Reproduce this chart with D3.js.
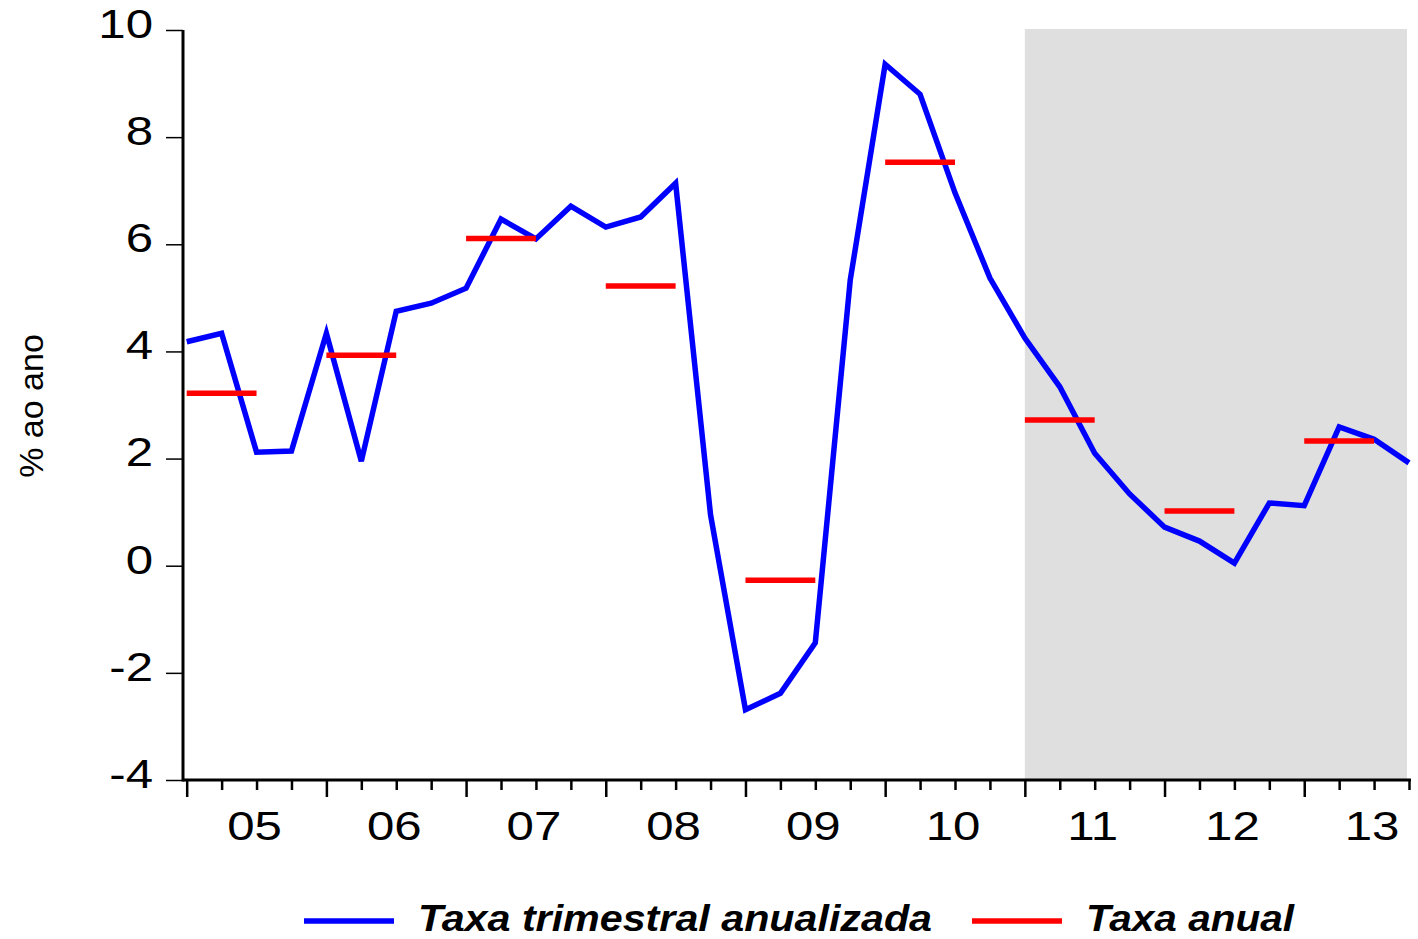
<!DOCTYPE html>
<html>
<head>
<meta charset="utf-8">
<script src="https://cdn.jsdelivr.net/npm/d3@7"></script>
<style>
  body { margin: 0; background: #fff; }
  text { font-family: "Liberation Sans", Arial, sans-serif; }
</style>
</head>
<body>
<div id="chart"></div>
<script>
// quarters 2005Q1 .. 2013Q4
var quarters = [
  "2005Q1","2005Q2","2005Q3","2005Q4",
  "2006Q1","2006Q2","2006Q3","2006Q4",
  "2007Q1","2007Q2","2007Q3","2007Q4",
  "2008Q1","2008Q2","2008Q3","2008Q4",
  "2009Q1","2009Q2","2009Q3","2009Q4",
  "2010Q1","2010Q2","2010Q3","2010Q4",
  "2011Q1","2011Q2","2011Q3","2011Q4",
  "2012Q1","2012Q2","2012Q3","2012Q4",
  "2013Q1","2013Q2","2013Q3","2013Q4"
];

// Taxa trimestral anualizada
var quarterly = [
  4.18, 4.34, 2.12, 2.14,
  4.34, 1.95, 4.75, 4.90,
  5.18, 6.47, 6.10, 6.71,
  6.32, 6.51, 7.14, 0.95,
  -2.69, -2.38, -1.44, 5.33,
  9.36, 8.80, 6.96, 5.37,
  4.25, 3.34, 2.10, 1.34,
  0.72, 0.46, 0.05, 1.17,
  1.12, 2.59, 2.36, 1.92
];

// Taxa anual
var years = ["2005","2006","2007","2008","2009","2010","2011","2012","2013"];
var yearLabels = ["05","06","07","08","09","10","11","12","13"];
var annual = [3.22, 3.93, 6.11, 5.22, -0.27, 7.53, 2.72, 1.02, 2.33];

var yTicks = [-4, -2, 0, 2, 4, 6, 8, 10];
var shadeStart = "2011Q1";

var svgWidth = 1418;
var svgHeight = 939;
var stretch = 1.2;   // tick labels are drawn a bit wide

var svg = d3.select("#chart")
  .append("svg")
  .attr("width", svgWidth)
  .attr("height", svgHeight);

var x = d3.scalePoint()
  .domain(quarters)
  .range([186.7, 1409]);

var y = d3.scaleLinear()
  .domain([-4, 10])
  .range([780, 30]);

// shaded forecast area
svg.append("rect")
  .attr("x", x(shadeStart))
  .attr("y", y(10) - 1)
  .attr("width", x(quarters[quarters.length - 1]) - x(shadeStart) - 2)
  .attr("height", y(-4) - y(10) + 1)
  .attr("fill", "#dfdfdf");

// left axis
var leftAxis = d3.axisLeft(y)
  .tickValues(yTicks)
  .tickSize(17)
  .tickPadding(8)
  .tickFormat(d => String(d));

var gy = svg.append("g")
  .attr("transform", "translate(183,0)")
  .call(leftAxis);
gy.select(".domain").remove();
gy.selectAll(".tick line").attr("stroke", "#000").attr("stroke-width", 1.5);
gy.selectAll(".tick text")
  .attr("font-size", 41)
  .attr("fill", "#000")
  .attr("dy", "0.3em")
  .attr("font-family", "'Liberation Sans', Arial, sans-serif")
  .attr("transform", `translate(0,-5) scale(${stretch},1)`);

// bottom axis quarter ticks
var bottomAxis = d3.axisBottom(x)
  .tickSize(9)
  .tickFormat("");

var gx = svg.append("g")
  .attr("transform", "translate(0,781)")
  .call(bottomAxis);
gx.select(".domain").remove();
gx.selectAll(".tick line")
  .attr("stroke", "#000")
  .attr("stroke-width", 2.5)
  .attr("y2", d => d.slice(4) === "Q1" ? 16 : 9);

// year labels, centred on Q3
svg.append("g")
  .selectAll("text")
  .data(years)
  .enter()
  .append("text")
  .attr("transform", d => `translate(${x(d + "Q3") - 2},840) scale(${stretch},1)`)
  .attr("text-anchor", "middle")
  .attr("font-size", 41)
  .text((d, i) => yearLabels[i]);

// axis lines
svg.append("line")
  .attr("x1", 183).attr("x2", 183)
  .attr("y1", y(10)).attr("y2", y(-4) + 1.5)
  .attr("stroke", "#000").attr("stroke-width", 3);
svg.append("line")
  .attr("x1", 183).attr("x2", 1411)
  .attr("y1", y(-4)).attr("y2", y(-4))
  .attr("stroke", "#000").attr("stroke-width", 3);

// quarterly line
var line = d3.line()
  .x((d, i) => x(quarters[i]))
  .y(d => y(d));

svg.append("path")
  .datum(quarterly)
  .attr("d", line)
  .attr("fill", "none")
  .attr("stroke", "#0000ff")
  .attr("stroke-width", 5.5)
  .attr("stroke-linejoin", "miter");

// annual segments, Q1 to Q3 of each year
svg.append("g")
  .selectAll("line")
  .data(annual)
  .enter()
  .append("line")
  .attr("x1", (d, i) => x(years[i] + "Q1"))
  .attr("x2", (d, i) => x(years[i] + "Q3"))
  .attr("y1", d => y(d))
  .attr("y2", d => y(d))
  .attr("stroke", "#ff0000")
  .attr("stroke-width", 5.5);

// y label
svg.append("text")
  .attr("transform", "translate(43,406) rotate(-90)")
  .attr("text-anchor", "middle")
  .attr("font-size", 34)
  .text("% ao ano");

// legend
var legend = [
  {name: "Taxa trimestral anualizada", color: "#0000ff", x: 304, w: 514},
  {name: "Taxa anual", color: "#ff0000", x: 972, w: 208}
];
var lg = svg.append("g");
legend.forEach(function(l) {
  lg.append("line")
    .attr("x1", l.x).attr("x2", l.x + 90)
    .attr("y1", 921).attr("y2", 921)
    .attr("stroke", l.color)
    .attr("stroke-width", 5.5);
  lg.append("text")
    .attr("x", l.x + 114)
    .attr("y", 931)
    .attr("font-size", 37)
    .attr("font-weight", "bold")
    .attr("font-style", "italic")
    .attr("textLength", l.w)
    .attr("lengthAdjust", "spacingAndGlyphs")
    .style("font-family", "'Liberation Sans Narrow', 'Liberation Sans', Arial, sans-serif")
    .text(l.name);
});
</script>
</body>
</html>
